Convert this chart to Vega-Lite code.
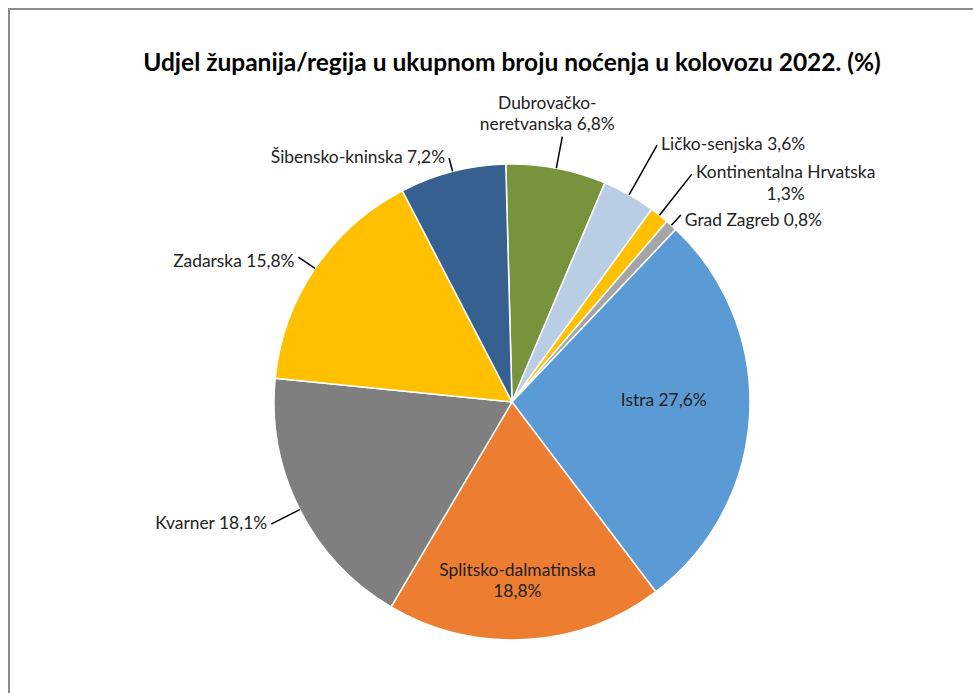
{
  "$schema": "https://vega.github.io/schema/vega-lite/v6.json",
  "autosize": {"type": "none"},
  "width": 1006,
  "height": 786,
  "padding": {"left": 9, "top": 9, "right": -42, "bottom": -102},
  "background": "white",
  "view": {"stroke": "#8c8c8c", "strokeWidth": 2, "fill": "white"},
  "config": {
    "view": {"stroke": "#8c8c8c", "strokeWidth": 2},
    "style": {"cell": {"stroke": "#8c8c8c", "strokeWidth": 2}},
    "text": {"font": "Lato", "fontSize": 17.4, "color": "#222222", "lineBreak": "\n", "lineHeight": 21.5}
  },
  "title": {
    "text": "Udjel županija/regija u ukupnom broju noćenja u kolovozu 2022. (%)",
    "font": "Lato",
    "fontSize": 24.5,
    "fontWeight": "bold",
    "color": "#000000",
    "anchor": "middle",
    "frame": "group",
    "offset": -67
  },
  "data": {
    "values": [
      {"name": "Dubrovačko-neretvanska", "label": "Dubrovačko-\nneretvanska 6,8%", "value": 6.8},
      {"name": "Ličko-senjska", "label": "Ličko-senjska 3,6%", "value": 3.6},
      {"name": "Kontinentalna Hrvatska", "label": "Kontinentalna Hrvatska\n1,3%", "value": 1.3},
      {"name": "Grad Zagreb", "label": "Grad Zagreb 0,8%", "value": 0.8},
      {"name": "Istra", "label": "Istra 27,6%", "value": 27.6},
      {"name": "Splitsko-dalmatinska", "label": "Splitsko-dalmatinska\n18,8%", "value": 18.8},
      {"name": "Kvarner", "label": "Kvarner 18,1%", "value": 18.1},
      {"name": "Zadarska", "label": "Zadarska 15,8%", "value": 15.8},
      {"name": "Šibensko-kninska", "label": "Šibensko-kninska 7,2%", "value": 7.2}
    ]
  },
  "transform": [
    {"stack": "value", "groupby": [], "as": ["v0", "v1"]},
    {"fold": ["v0", "v1"], "as": ["k", "kv"]},
    {"joinaggregate": [{"op": "mean", "field": "kv", "as": "mid"}], "groupby": ["name"]},
    {"filter": "datum.k == 'v0'"}
  ],
  "layer": [
    {
      "mark": {"type": "arc", "outerRadius": 238, "stroke": "white", "strokeWidth": 1.5},
      "encoding": {
        "theta": {"field": "v0", "type": "quantitative", "scale": {"domain": [0, 100], "range": [-0.0262, 6.2570]}},
        "theta2": {"field": "v1"},
        "color": {
          "field": "name",
          "type": "nominal",
          "legend": null,
          "scale": {
            "domain": ["Dubrovačko-neretvanska", "Ličko-senjska", "Kontinentalna Hrvatska", "Grad Zagreb", "Istra", "Splitsko-dalmatinska", "Kvarner", "Zadarska", "Šibensko-kninska"],
            "range": ["#77933C", "#B9CDE5", "#FFC000", "#A5A5A5", "#5B9BD5", "#ED7D31", "#7F7F7F", "#FFC000", "#35608F"]
          }
        }
      }
    },
    {
      "transform": [{"filter": {"field": "name", "equal": "Dubrovačko-neretvanska"}}],
      "mark": {"type": "arc", "radius": 270, "radius2": 238, "fill": "transparent", "stroke": "black", "strokeWidth": 1.5},
      "encoding": {"theta": {"field": "mid", "type": "quantitative"}, "theta2": {"field": "mid"}}
    },
    {
      "transform": [{"filter": {"field": "name", "equal": "Ličko-senjska"}}],
      "mark": {"type": "arc", "radius": 295, "radius2": 238, "fill": "transparent", "stroke": "black", "strokeWidth": 1.5},
      "encoding": {"theta": {"field": "mid", "type": "quantitative"}, "theta2": {"field": "mid"}}
    },
    {
      "transform": [{"filter": {"field": "name", "equal": "Kontinentalna Hrvatska"}}],
      "mark": {"type": "arc", "radius": 290, "radius2": 238, "fill": "transparent", "stroke": "black", "strokeWidth": 1.5},
      "encoding": {"theta": {"field": "mid", "type": "quantitative"}, "theta2": {"field": "mid"}}
    },
    {
      "transform": [{"filter": {"field": "name", "equal": "Grad Zagreb"}}],
      "mark": {"type": "arc", "radius": 252, "radius2": 238, "fill": "transparent", "stroke": "black", "strokeWidth": 1.5},
      "encoding": {"theta": {"field": "mid", "type": "quantitative"}, "theta2": {"field": "mid"}}
    },
    {
      "transform": [{"filter": {"field": "name", "equal": "Kvarner"}}],
      "mark": {"type": "arc", "radius": 270, "radius2": 238, "fill": "transparent", "stroke": "black", "strokeWidth": 1.5},
      "encoding": {"theta": {"field": "mid", "type": "quantitative"}, "theta2": {"field": "mid"}}
    },
    {
      "transform": [{"filter": {"field": "name", "equal": "Zadarska"}}],
      "mark": {"type": "arc", "radius": 258, "radius2": 238, "fill": "transparent", "stroke": "black", "strokeWidth": 1.5},
      "encoding": {"theta": {"field": "mid", "type": "quantitative"}, "theta2": {"field": "mid"}}
    },
    {
      "transform": [{"filter": {"field": "name", "equal": "Šibensko-kninska"}}],
      "mark": {"type": "arc", "radius": 252, "radius2": 238, "fill": "transparent", "stroke": "black", "strokeWidth": 1.5},
      "encoding": {"theta": {"field": "mid", "type": "quantitative"}, "theta2": {"field": "mid"}}
    },
    {
      "transform": [{"filter": {"field": "name", "equal": "Dubrovačko-neretvanska"}}],
      "mark": {"type": "text", "radius": 270, "align": "center", "baseline": "bottom", "dx": -15, "dy": -24},
      "encoding": {"theta": {"field": "mid", "type": "quantitative", "stack": null}, "text": {"field": "label"}}
    },
    {
      "transform": [{"filter": {"field": "name", "equal": "Ličko-senjska"}}],
      "mark": {"type": "text", "radius": 295, "align": "left", "baseline": "middle", "dx": 4},
      "encoding": {"theta": {"field": "mid", "type": "quantitative", "stack": null}, "text": {"field": "label"}}
    },
    {
      "transform": [{"filter": {"field": "name", "equal": "Kontinentalna Hrvatska"}}],
      "mark": {"type": "text", "radius": 290, "align": "center", "baseline": "middle", "dx": 94, "dy": -1},
      "encoding": {"theta": {"field": "mid", "type": "quantitative", "stack": null}, "text": {"field": "label"}}
    },
    {
      "transform": [{"filter": {"field": "name", "equal": "Grad Zagreb"}}],
      "mark": {"type": "text", "radius": 252, "align": "left", "baseline": "middle", "dx": 4, "dy": 6},
      "encoding": {"theta": {"field": "mid", "type": "quantitative", "stack": null}, "text": {"field": "label"}}
    },
    {
      "transform": [{"filter": {"field": "name", "equal": "Kvarner"}}],
      "mark": {"type": "text", "radius": 270, "align": "right", "baseline": "middle", "dx": -4},
      "encoding": {"theta": {"field": "mid", "type": "quantitative", "stack": null}, "text": {"field": "label"}}
    },
    {
      "transform": [{"filter": {"field": "name", "equal": "Zadarska"}}],
      "mark": {"type": "text", "radius": 258, "align": "right", "baseline": "middle", "dx": -4, "dy": 5},
      "encoding": {"theta": {"field": "mid", "type": "quantitative", "stack": null}, "text": {"field": "label"}}
    },
    {
      "transform": [{"filter": {"field": "name", "equal": "Šibensko-kninska"}}],
      "mark": {"type": "text", "radius": 252, "align": "right", "baseline": "middle", "dx": -4},
      "encoding": {"theta": {"field": "mid", "type": "quantitative", "stack": null}, "text": {"field": "label"}}
    },
    {
      "transform": [{"filter": {"field": "name", "equal": "Istra"}}],
      "mark": {"type": "text", "radius": 152, "align": "center", "baseline": "middle", "dy": -9},
      "encoding": {"theta": {"field": "mid", "type": "quantitative", "stack": null}, "text": {"field": "label"}}
    },
    {
      "transform": [{"filter": {"field": "name", "equal": "Splitsko-dalmatinska"}}],
      "mark": {"type": "text", "radius": 180, "align": "center", "baseline": "middle", "dx": -5, "dy": -11},
      "encoding": {"theta": {"field": "mid", "type": "quantitative", "stack": null}, "text": {"field": "label"}}
    }
  ]
}
